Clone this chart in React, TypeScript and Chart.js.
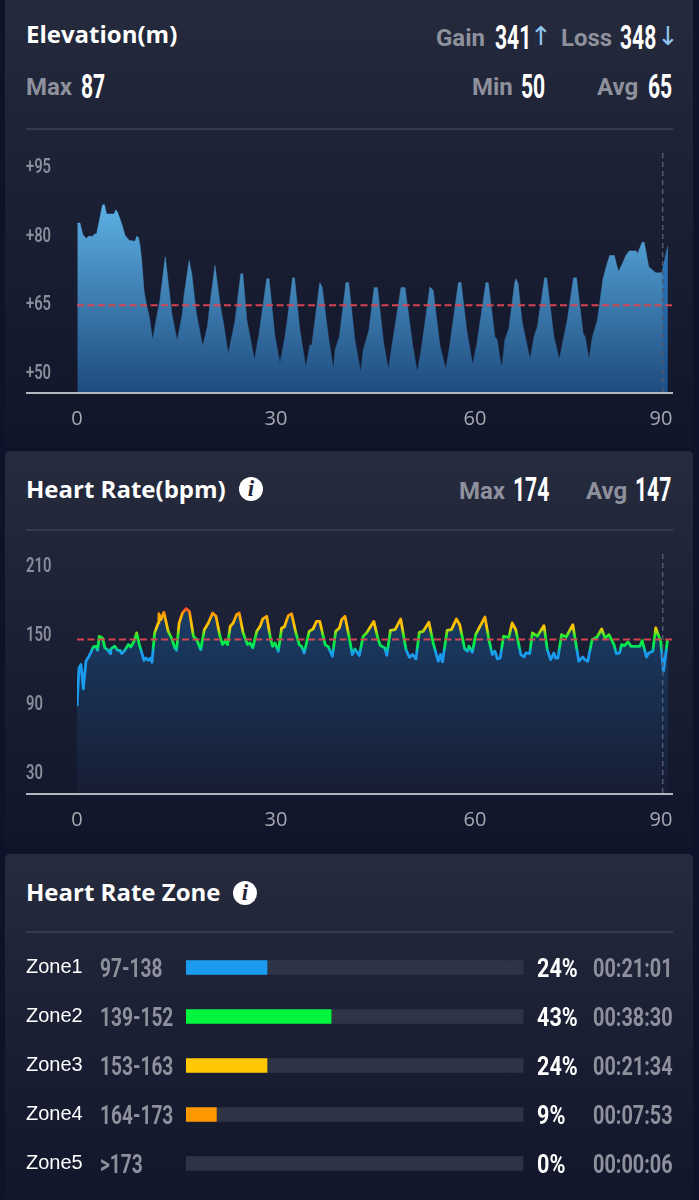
import React, { useEffect, useRef } from "react";
import { Chart, registerables } from "chart.js";

Chart.register(...registerables);

const xTickValues = [0, 30, 60, 90];
const elevationTicks = [50, 65, 80, 95];
const heartTicks = [30, 90, 150, 210];
const elevationAvg = 65;
const heartAvg = 147;
const markerMinute = 88.3;

const elevationMinutes = [0.05,0.45,0.85,1.05,1.45,1.7,2.45,2.6,2.95,3.85,4.15,4.45,5.6,5.85,6.1,6.75,7.25,7.9,8.75,9,9.25,9.5,9.75,10.1,10.5,10.9,11.4,12.1,12.5,13.3,13.6,14.3,15.1,15.9,16.1,16.9,17.3,18,18.95,19.65,20.05,20.8,21.55,22.05,22.8,23.8,24.7,25,25.6,26.75,27.45,28.6,28.95,29.85,30.6,31.35,31.7,32.5,32.8,33.6,34.5,35.1,35.4,36.6,36.95,37.9,38.65,38.9,39.55,40.55,40.95,41.9,42.75,43.15,44,44.8,45.3,46.2,46.95,47.45,48.85,49.45,50.6,51.3,51.95,53.2,53.7,54.7,55.6,56.2,57.5,57.9,58.75,59.65,60.25,61.65,62,63,63.35,63.9,64.1,64.5,65.1,66,66.2,66.5,67.1,68.3,68.9,69.4,70.5,70.8,71.9,72.7,73.4,73.9,74.85,75.3,76.3,76.6,77.2,77.7,78.45,79.3,79.7,80.3,81,81.6,82.1,82.75,83.25,84.3,84.5,85.2,85.5,86.2,86.7,87.25,88.15,88.5,89.05];
const elevationValues = [83,83,80.6,80.1,79.6,80.1,80.1,80.6,80.6,87,87,85,85,85.9,85.4,82.8,80.3,79.2,79,80.1,79.9,78.1,74.8,68.3,65,62.5,57.4,63.2,66.1,75.6,71.9,63.2,57.2,63.2,66.8,74.8,71.9,63.2,56,60.3,65.4,73.7,65.4,61.4,54.4,61.4,71.9,71.9,61.8,53,58.8,70.8,70.8,58.1,52.3,58.1,61.7,71,71,59.5,51.4,56.3,56.3,69.9,69,58.1,51,55.2,58.1,70,70,57.4,50.4,55.2,59.5,68.9,68.9,57,51,55.9,68.9,68.9,56.3,50.3,55.9,69,68.3,56.3,51,56.3,70,70,59.5,52,56.3,70,69.9,58.1,57.4,52.1,52.1,57.4,59.9,70.1,70.8,69.7,61.4,53.1,58.1,60.3,71,71,58.1,53.1,58.1,61.7,71,71,58.8,58.1,53.1,58.1,61.7,70.8,73,75.9,75.9,72.4,73.7,75.9,76.9,76.9,76.3,78.8,78.8,73.4,72.8,72.1,72.1,74.1,77.9];
const elevationTailMinutes = [88.3,88.5,89.05];
const elevationTailValues = [73.2,74.1,77.9];

const heartMinutes = [0,0.3,0.6,0.95,1.35,1.95,2.45,2.85,3.1,3.35,3.85,4.2,4.7,5,5.1,5.7,6.1,6.5,6.75,7.1,7.75,8.1,8.6,9,9.4,10.1,10.4,10.75,11.1,11.3,11.7,12.25,12.35,12.65,13.1,13.75,14.25,14.75,15,15.4,15.9,16.45,16.95,17.55,18.05,18.65,19.2,19.8,20.45,20.95,21.55,21.95,22.3,22.7,23.1,23.55,24.05,24.45,25.05,25.7,26.1,26.5,27.1,27.6,28,28.6,29.2,29.5,29.85,30.35,30.85,31.25,31.85,32.35,33,33.5,33.85,34.25,35,35.6,36.1,36.6,37.4,37.9,38.5,39,39.55,39.9,40.4,41,41.5,41.9,42.55,43.15,43.65,44.75,45.4,45.75,46.4,46.7,47.25,47.95,48.8,49.6,50.1,50.6,51.1,51.6,52.2,53.05,53.7,54.45,54.8,55.1,55.8,56.45,57.2,57.7,58.45,58.85,59.1,59.6,60.1,61.5,62.1,62.6,63,63.4,63.8,64.3,65.1,65.6,66.15,66.9,67.4,67.65,68.25,68.65,69.4,70.4,70.9,71.4,71.9,72.15,72.5,73.05,73.75,74.75,75.4,75.65,76.25,76.55,77,77.65,78.4,79.1,79.6,80.2,80.95,81.3,81.8,82.1,82.55,83.05,83.55,84.2,84.85,85.2,85.85,86.2,86.8,87.25,88,88.4,89,89.15];
const heartValues = [89,122.4,125.3,104.1,128.2,134,140.6,141.2,137.7,149.9,148.4,139.8,137.7,134.8,138.9,141.2,137.7,137.7,134.8,136.9,142.7,140.6,145.6,152.8,142.7,129,131,129,131,127.3,152.8,161.5,169.6,164.4,170.8,154.2,148.4,139.8,137.7,161.5,170.2,174,171.6,149.9,147,138.3,155.7,161.5,170.2,167.3,149.9,142.7,145.6,142.7,158.6,161.5,168.7,170.2,152.8,142.7,144,139.8,154.2,158.6,165,167.3,147,141.2,144,136.9,157.1,158,167.9,169.6,152.8,142.7,141.2,135.4,154.2,156.3,162.9,162.9,142.7,140.6,132.5,154.2,157.1,164.4,167.3,149.9,134,138.9,133.1,149.9,152.8,162.9,147,141.8,139.8,133.4,155.1,155.7,165,138.3,131.6,134,130.2,153.4,154.2,162.1,144,128.2,134,127.6,155.1,155.7,165,160,138.9,136.9,141.2,136,151.3,166.7,147,134,136.9,130.2,131,149.9,149,161.5,155.7,134,131.9,135.4,134.8,152.8,149.9,159.2,138.3,129.6,135.4,131,131,151.3,149.3,160,136.9,128.2,131.9,129.6,128.2,147,149.3,156.3,148.4,151.3,142.7,134.8,135.4,142.7,141.8,145,141.2,141.2,141.2,146.1,131.9,135.4,136.9,157.1,145.6,119.5,145.6,146];

const zoneNames = ["Zone1", "Zone2", "Zone3", "Zone4", "Zone5"];
const zoneRanges = ["97-138", "139-152", "153-163", "164-173", ">173"];
const zonePercents = [24, 43, 24, 9, 0];
const zoneTimes = ["00:21:01", "00:38:30", "00:21:34", "00:07:53", "00:00:06"];
const zoneColors = ["#1a9bf0", "#00f63e", "#ffc800", "#ff9800", "rgba(0,0,0,0)"];
const zoneTrack = [100, 100, 100, 100, 100];

const GRAY = "#8e909c";
const TICK_GRAY = "#8b8e9a";
const AXIS_LINE = "#b4b6bf";
const RED_DASH = "rgba(222,70,82,0.95)";
const MARK_DASH = "#4f5a72";

const toPoints = (xs: number[], ys: number[]) => xs.map((x, i) => ({ x, y: ys[i] }));

// Builds a vertical gradient between two data values once the y scale has been laid out.
function verticalGradient(chart: any, fromValue: number, toValue: number, stops: [number, string][]) {
  const y = chart.scales.y;
  const fallback = stops[0][1];
  if (!y || !chart.chartArea) return fallback;
  const y0 = y.getPixelForValue(fromValue);
  const y1 = y.getPixelForValue(toValue);
  if (!Number.isFinite(y0) || !Number.isFinite(y1)) return fallback;
  const g = chart.ctx.createLinearGradient(0, y0, 0, y1);
  stops.forEach(([p, col]) => g.addColorStop(p, col));
  return g;
}

const axisLinePlugin = {
  id: "axisLine",
  beforeDatasetsDraw(chart: any) {
    const { ctx, chartArea } = chart;
    ctx.save();
    ctx.strokeStyle = AXIS_LINE;
    ctx.lineWidth = 2;
    ctx.beginPath();
    ctx.moveTo(26, chartArea.bottom + 1);
    ctx.lineTo(chartArea.right - 1, chartArea.bottom + 1);
    ctx.stroke();
    ctx.restore();
  },
  beforeDraw(chart: any) {
    const scale = chart.scales.x;
    const items = scale.getLabelItems();
    const last = items[items.length - 1];
    if (last && !last.__moved) {
      last.options.translation[0] -= 13;
      last.__moved = true;
    }
  },
};

// Draws the y scale's own tick labels horizontally condensed, anchored at their left edge.
function condenseLabels(s: any, originX: number, sx: number) {
  if (s.__condensed) return;
  s.__condensed = true;
  const draw = s.drawLabels.bind(s);
  s.drawLabels = (area: any) => {
    const c = s.ctx;
    c.save();
    c.translate(originX, 0);
    c.scale(sx, 1);
    c.translate(-originX, 0);
    draw(area);
    c.restore();
  };
}

function lineOptions(yMin: number, yMax: number, yTicks: number[], plotTop: number, xAxisHeight: number, yFormat: (v: number) => string) {
  return {
    responsive: false,
    animation: false as const,
    events: [],
    layout: { padding: { left: 26, right: 25, top: plotTop, bottom: 0 } },
    plugins: { legend: { display: false }, tooltip: { enabled: false } },
    scales: {
      x: {
        type: "linear" as const,
        min: 0,
        max: 90,
        grid: { display: false },
        border: { display: false },
        afterBuildTicks: (s: any) => { s.ticks = xTickValues.map((value) => ({ value })); },
        afterFit: (s: any) => { s.height = xAxisHeight; s.paddingLeft = 0; s.paddingRight = 0; },
        ticks: {
          autoSkip: false,
          maxRotation: 0,
          padding: 7,
          color: "#a7a9b1",
          font: { family: "'Open Sans'", size: 20 },
        },
      },
      y: {
        type: "linear" as const,
        min: yMin,
        max: yMax,
        grid: { display: false },
        border: { display: false },
        afterBuildTicks: (s: any) => { s.ticks = yTicks.map((value) => ({ value })); },
        afterFit: (s: any) => {
          s.width = 51;
          s.paddingTop = 0;
          s.paddingBottom = 0;
          condenseLabels(s, 26, 0.74);
        },
        ticks: {
          autoSkip: false,
          crossAlign: "far" as const,
          color: TICK_GRAY,
          font: { family: "Roboto", size: 20, weight: "600" as any },
          callback: yFormat,
        },
      },
    },
  };
}

function guideSets(avg: number, yMin: number, yMax: number) {
  return [
    {
      data: [{ x: 0, y: avg }, { x: 90, y: avg }],
      borderColor: RED_DASH,
      borderWidth: 2,
      borderDash: [7, 3.5],
      pointRadius: 0,
      fill: false,
      order: 0,
    },
    {
      data: [{ x: markerMinute, y: yMin }, { x: markerMinute, y: yMax }],
      borderColor: MARK_DASH,
      borderWidth: 1.5,
      borderDash: [5, 4],
      pointRadius: 0,
      fill: false,
      order: 1,
    },
  ];
}

function ElevationChart() {
  const ref = useRef<HTMLCanvasElement>(null);
  useEffect(() => {
    const yMin = 46;
    const yMax = 99;
    const areaFill = (top: string, bottom: string) => (c: any) =>
      verticalGradient(c.chart, 87, yMin, [[0, top], [1, bottom]]);
    const chart = new Chart(ref.current!, {
      type: "line",
      data: {
        datasets: [
          ...guideSets(elevationAvg, yMin, yMax),
          {
            data: toPoints(elevationTailMinutes, elevationTailValues),
            borderWidth: 0,
            pointRadius: 0,
            fill: "start",
            backgroundColor: areaFill("#2f86cf", "#1d4f88"),
            order: 2,
          },
          {
            data: toPoints(elevationMinutes, elevationValues),
            borderWidth: 0.5,
            borderColor: areaFill("#5cb0e4", "#1f4b7e"),
            pointRadius: 0,
            tension: 0,
            fill: "start",
            backgroundColor: areaFill("#5cb0e4", "#1f4b7e"),
            order: 3,
          },
        ] as any,
      },
      options: lineOptions(yMin, yMax, elevationTicks, 10, 38, (v: number) => `+${v}`) as any,
      plugins: [axisLinePlugin],
    });
    return () => chart.destroy();
  }, []);
  return <canvas ref={ref} width={699} height={290} style={{ position: "absolute", left: 0, top: 140, width: 699, height: 290 }} />;
}

function HeartChart() {
  const ref = useRef<HTMLCanvasElement>(null);
  useEffect(() => {
    const yMin = 13.5;
    const yMax = 225;
    const stopValues = [128, 136, 141, 150, 157, 165, 170, 175];
    const stopColors = ["#1a9bf0", "#1a9bf0", "#00e85a", "#1cee30", "#ffc800", "#ffb400", "#ff9800", "#ff3b30"];
    const lineGradient = (c: any) =>
      verticalGradient(c.chart, 128, 175, stopValues.map((v, i) => [(v - 128) / 47, stopColors[i]] as [number, string]));
    const areaGradient = (c: any) =>
      verticalGradient(c.chart, 174, yMin, [[0, "#1a3d66"], [1, "#171d33"]]);
    const chart = new Chart(ref.current!, {
      type: "line",
      data: {
        datasets: [
          ...guideSets(heartAvg, yMin, yMax),
          {
            data: toPoints(heartMinutes, heartValues),
            borderWidth: 2.8,
            borderJoinStyle: "round",
            borderColor: lineGradient,
            pointRadius: 0,
            tension: 0,
            fill: "start",
            backgroundColor: areaGradient,
            order: 3,
          },
        ] as any,
      },
      options: lineOptions(yMin, yMax, heartTicks, 10, 37, (v: number) => `${v}`) as any,
      plugins: [axisLinePlugin],
    });
    return () => chart.destroy();
  }, []);
  return <canvas ref={ref} width={699} height={290} style={{ position: "absolute", left: 0, top: 540, width: 699, height: 290 }} />;
}

function ZoneChart() {
  const ref = useRef<HTMLCanvasElement>(null);
  useEffect(() => {
    const chart = new Chart(ref.current!, {
      type: "bar",
      data: {
        labels: zoneNames,
        datasets: [
          { data: zonePercents, backgroundColor: zoneColors, barThickness: 14, order: 0, grouped: false },
          { data: zoneTrack, backgroundColor: "#2e3446", barThickness: 14, order: 1, grouped: false },
        ] as any,
      },
      options: {
        indexAxis: "y",
        responsive: false,
        animation: false,
        events: [],
        layout: { padding: { left: 26, right: 175.5, top: 0, bottom: 0 } },
        plugins: { legend: { display: false }, tooltip: { enabled: false } },
        scales: {
          x: { display: false, min: 0, max: 100 },
          y: {
            grid: { display: false },
            border: { display: false },
            afterFit: (s: any) => { s.width = 160; s.paddingTop = 0; s.paddingBottom = 0; },
            ticks: {
              crossAlign: "far",
              color: "#ffffff",
              font: { family: "'Liberation Sans'", size: 20 },
            },
          },
        },
      } as any,
    });
    return () => chart.destroy();
  }, []);
  return <canvas ref={ref} width={699} height={245} style={{ position: "absolute", left: 0, top: 943, width: 699, height: 245 }} />;
}

function Label({ x, y, children, size = 24, color = GRAY, weight = 700, family = "Roboto" }: any) {
  return (
    <span style={{ position: "absolute", left: x, top: y - 20, height: 40, lineHeight: "40px", fontFamily: family, fontSize: size, fontWeight: weight, color, whiteSpace: "nowrap" }}>
      {children}
    </span>
  );
}

function Cond({ x, y, children, size = 34, sx = 0.62, color = "#ffffff", weight = 700 }: any) {
  return (
    <span style={{ position: "absolute", left: x, top: y - 20, height: 40, lineHeight: "40px", fontFamily: "Roboto", fontSize: size, fontWeight: weight, color, whiteSpace: "nowrap", transform: `scaleX(${sx})`, transformOrigin: "left center" }}>
      {children}
    </span>
  );
}

function Title({ y, children }: any) {
  return <Label x={26} y={y} size={24} color="#ffffff" family="'Open Sans'">{children}</Label>;
}

function Info({ cx, cy }: any) {
  return (
    <span style={{ position: "absolute", left: cx - 12, top: cy - 12, width: 24, height: 24, borderRadius: 12, background: "#fff", color: "#1f2436", textAlign: "center", lineHeight: "24px", fontFamily: "'Liberation Serif'", fontStyle: "italic", fontWeight: 700, fontSize: 23 }}>
      i
    </span>
  );
}

function Card({ top, height }: any) {
  return (
    <div style={{ position: "absolute", left: 5, top, width: 688, height, borderRadius: 5, background: "linear-gradient(180deg,#262b3e 0%,#1b2034 45%,#10152a 100%)" }} />
  );
}

function Divider({ y }: any) {
  return <div style={{ position: "absolute", left: 26, top: y, width: 647, height: 1.5, background: "#363a4c" }} />;
}

export default function App() {
  const rowY = [967, 1016, 1065, 1114, 1163];
  return (
    <div style={{ position: "absolute", left: 0, top: 0, width: 699, height: 1200, overflow: "hidden", background: "#0d1328" }}>
      <Card top={-20} height={468} />
      <Card top={451} height={399} />
      <Card top={854} height={366} />

      <Title y={34}>Elevation(m)</Title>
      <Label x={436} y={38}>Gain</Label>
      <Cond x={495} y={37}>341</Cond>
      <Label x={530} y={36} size={26} color="#8fc6ee" weight={400} family="'DejaVu Sans'">↑</Label>
      <Label x={561} y={38}>Loss</Label>
      <Cond x={620} y={37}>348</Cond>
      <Label x={657} y={36} size={26} color="#8fc6ee" weight={400} family="'DejaVu Sans'">↓</Label>
      <Label x={26} y={87}>Max</Label>
      <Cond x={81} y={86}>87</Cond>
      <Label x={472} y={87}>Min</Label>
      <Cond x={521} y={86}>50</Cond>
      <Label x={597} y={87}>Avg</Label>
      <Cond x={648} y={86}>65</Cond>
      <Divider y={128} />
      <ElevationChart />

      <Title y={489}>Heart Rate(bpm)</Title>
      <Info cx={251} cy={489} />
      <Label x={459} y={491}>Max</Label>
      <Cond x={513} y={489}>174</Cond>
      <Label x={586} y={491}>Avg</Label>
      <Cond x={635} y={489}>147</Cond>
      <Divider y={529} />
      <HeartChart />

      <Title y={892}>Heart Rate Zone</Title>
      <Info cx={245} cy={893} />
      <Divider y={931} />
      <ZoneChart />
      {zoneRanges.map((r, i) => (
        <Cond key={r} x={99.5} y={rowY[i] + 1} size={26} sx={0.735} color={GRAY}>{r}</Cond>
      ))}
      {zonePercents.map((p, i) => (
        <Cond key={zoneNames[i]} x={537} y={rowY[i] + 1} size={26} sx={0.83}>{`${p}%`}</Cond>
      ))}
      {zoneTimes.map((t, i) => (
        <Cond key={t} x={593} y={rowY[i] + 1} size={26} sx={0.765} color={GRAY}>{t}</Cond>
      ))}
    </div>
  );
}
